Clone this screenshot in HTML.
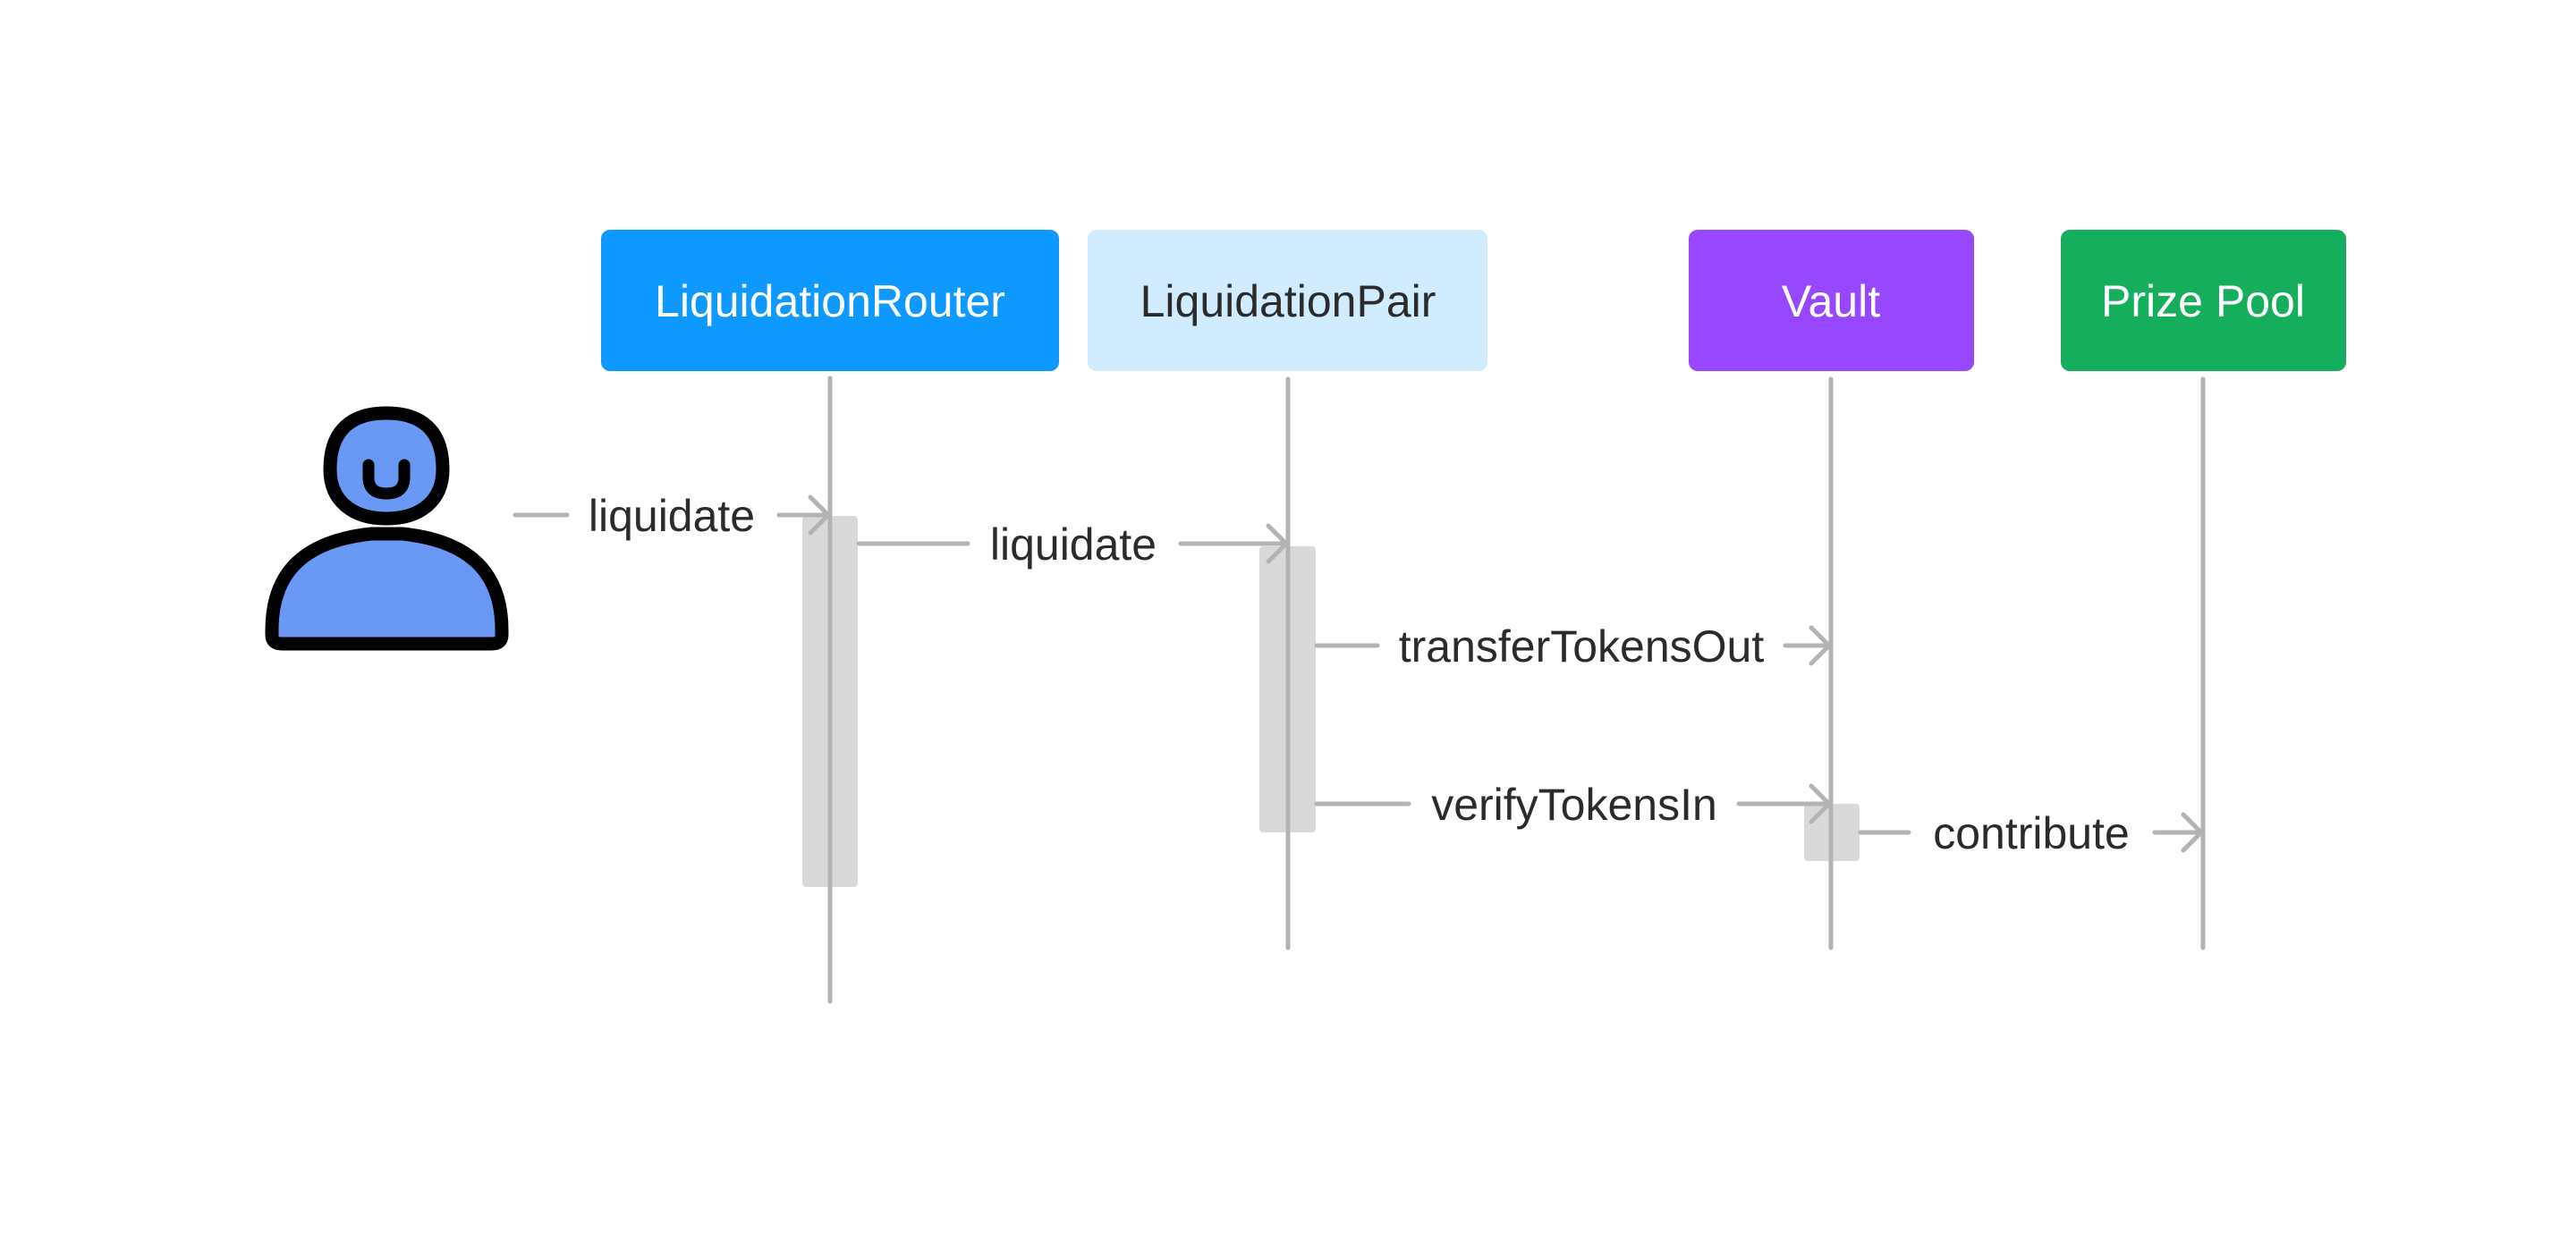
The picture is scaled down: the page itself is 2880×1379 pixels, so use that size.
<!DOCTYPE html>
<html><head><meta charset="utf-8"><style>html,body{margin:0;padding:0;background:#fff}svg{display:block}</style></head>
<body>
<svg width="2880" height="1379" viewBox="0 0 2880 1379" xmlns="http://www.w3.org/2000/svg" font-family="Liberation Sans, sans-serif">
<rect width="2880" height="1379" fill="#fff"/>
<rect x="672" y="257" width="512" height="158" rx="10" fill="#0d99ff"/>
<rect x="1216" y="257" width="447" height="158" rx="10" fill="#d1ebff"/>
<rect x="1888" y="257" width="319" height="158" rx="10" fill="#9747ff"/>
<rect x="2304" y="257" width="319" height="158" rx="10" fill="#14ae5c"/>
<g font-size="50" text-anchor="middle">
<text x="928" y="354" fill="#fff">LiquidationRouter</text>
<text x="1440" y="354" fill="#2b2b2b">LiquidationPair</text>
<text x="2047" y="354" fill="#fff">Vault</text>
<text x="2463" y="354" fill="#fff">Prize Pool</text>
</g>
<rect x="897" y="577" width="62" height="415" rx="4" fill="#d9d9d9"/>
<rect x="1408" y="611" width="63" height="320" rx="4" fill="#d9d9d9"/>
<rect x="2017" y="899" width="62" height="64" rx="4" fill="#d9d9d9"/>
<g stroke="#b3b3b3" stroke-width="5" stroke-linecap="round" fill="none">
<line x1="928" y1="423" x2="928" y2="1120"/>
<line x1="1440" y1="424" x2="1440" y2="1060"/>
<line x1="2047" y1="424" x2="2047" y2="1060"/>
<line x1="2463" y1="424" x2="2463" y2="1060"/>
<line x1="576" y1="576" x2="634" y2="576"/><line x1="871" y1="576" x2="926" y2="576"/>
<polyline points="906,556 926,576 906,596"/>
<line x1="960" y1="608" x2="1082" y2="608"/><line x1="1320" y1="608" x2="1438" y2="608"/>
<polyline points="1418,588 1438,608 1418,628"/>
<line x1="1472" y1="722" x2="1540" y2="722"/><line x1="1996" y1="722" x2="2045" y2="722"/>
<polyline points="2025,702 2045,722 2025,742"/>
<line x1="1472" y1="899" x2="1575" y2="899"/><line x1="1944" y1="899" x2="2045" y2="899"/>
<polyline points="2025,879 2045,899 2025,919"/>
<line x1="2080" y1="931" x2="2134" y2="931"/><line x1="2409" y1="931" x2="2461" y2="931"/>
<polyline points="2441,911 2461,931 2441,951"/>
</g>
<g font-size="50" fill="#2b2b2b" text-anchor="middle">
<text x="751" y="594">liquidate</text>
<text x="1200" y="626">liquidate</text>
<text x="1768" y="740">transferTokensOut</text>
<text x="1760" y="917">verifyTokensIn</text>
<text x="2271" y="949">contribute</text>
</g>
<g stroke="#000" stroke-width="15" fill="#6a99f5" stroke-linejoin="round">
<path d="M304,705 C304,640 340,605 415,597 L450,597 C525,605 561,640 561,705 L561,710 Q561,720 550,720 L315,720 Q304,720 304,710 Z"/>
<path d="M432,462 C470,462 495,480 495,525 C495,560 470,580 432,580 C394,580 369,560 369,525 C369,480 394,462 432,462 Z"/>
</g>
<path d="M412,520 L412,534 Q412,552 432,552 Q452,552 452,534 L452,520" fill="none" stroke="#000" stroke-width="13" stroke-linecap="round"/>
</svg>
</body></html>
